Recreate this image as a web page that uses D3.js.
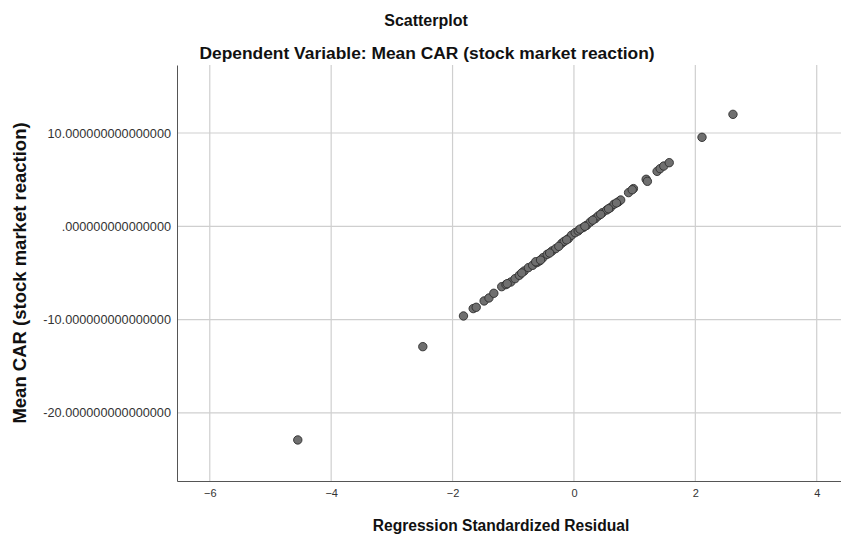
<!DOCTYPE html>
<html>
<head>
<meta charset="utf-8">
<script src="https://cdn.jsdelivr.net/npm/d3@7"></script>
<style>
  body { margin: 0; background: #fff; }
  svg text { font-family: "Liberation Sans", Arial, sans-serif; }
</style>
</head>
<body>
<div id="chart"></div>
<script>
// residuals (x) and mean CAR (y)
let residuals = [-4.55, -2.49, 2.11, 2.62,
  -1.82, -1.66, -1.61, -1.48, -1.40, -1.32, -1.19, -1.12, -1.04, -0.97, -0.90,
  -0.82, -0.75, -0.68, -0.61, -0.57, -0.51, -0.44, -0.36, -0.30, -0.20, -0.16,
  -0.09, -0.04, 0.02, 0.07, 0.15, 0.21, 0.27, 0.35, 0.40, 0.47, 0.54, 0.60,
  0.66, 0.73, 0.77, 0.90, 0.98, 1.19, 1.21, 1.37, 1.42, 1.48, 1.57,
  -1.10, -0.86, -0.63, -0.55, -0.40, -0.25, -0.12, 0.10, 0.18, 0.31, 0.44, 0.57, 0.70, 0.96]
let meanCar = [-22.9, -12.9, 9.54, 12.0,
  -9.61, -8.82, -8.68, -8.0, -7.68, -7.18, -6.47, -6.25, -5.97, -5.61, -5.25,
  -4.79, -4.43, -4.18, -3.89, -3.72, -3.36, -3.0, -2.64, -2.39, -1.82, -1.61,
  -1.32, -0.96, -0.68, -0.50, -0.14, 0.11, 0.46, 0.82, 1.11, 1.46, 1.75, 2.0,
  2.36, 2.61, 2.82, 3.61, 4.04, 5.04, 4.82, 5.89, 6.18, 6.46, 6.82,
  -6.15, -5.0, -3.80, -3.62, -2.86, -2.15, -1.45, -0.30, 0.0, 0.66, 1.28, 1.88, 2.5, 3.92]
let xTicks = [-6, -4, -2, 0, 2, 4]
let yTicks = [10, 0, -10, -20]
let yTickLabels = ["10.000000000000000", ".000000000000000", "-10.000000000000000", "-20.000000000000000"]

let w = 841, h = 540
let mLeft = 177, mRight = 841, mTop = 65, mBottom = 481

let svg = d3.select('#chart').append('svg')
  .attr('width', w)
  .attr('height', h)

let x = d3.scaleLinear().domain([-6.54, 4.40]).range([mLeft, mRight])
let y = d3.scaleLinear().domain([-27.3, 17.29]).range([mBottom, mTop])

// grid
svg.selectAll('.vgrid').data(xTicks).enter().append('line')
  .attr('x1', d => x(d)).attr('x2', d => x(d))
  .attr('y1', mTop).attr('y2', mBottom)
  .attr('stroke', '#cfcfcf').attr('stroke-width', 1.2)
svg.selectAll('.hgrid').data(yTicks).enter().append('line')
  .attr('x1', mLeft).attr('x2', mRight)
  .attr('y1', d => y(d)).attr('y2', d => y(d))
  .attr('stroke', '#cfcfcf').attr('stroke-width', 1.2)

// axes
let xAxis = svg.append('g')
  .attr('transform', 'translate(0,' + mBottom + ')')
  .call(d3.axisBottom(x).tickValues(xTicks).tickSize(0).tickPadding(8).tickFormat(d => d < 0 ? '\u2212' + Math.abs(d) : d))
xAxis.select('.domain').attr('stroke', '#555')
xAxis.selectAll('text').attr('font-size', 11).attr('fill', '#333')

let yAxis = svg.append('g')
  .attr('transform', 'translate(' + mLeft + ',0)')
  .call(d3.axisLeft(y).tickValues(yTicks).tickSize(0).tickPadding(6).tickFormat((d, i) => yTickLabels[i]))
yAxis.select('.domain').attr('stroke', '#555')
yAxis.selectAll('text').attr('font-size', 12.7).attr('fill', '#333')

// points
svg.append('g').selectAll('circle')
  .data(residuals.map((r, i) => [r, meanCar[i]]))
  .enter().append('circle')
  .attr('cx', d => x(d[0]))
  .attr('cy', d => y(d[1]))
  .attr('r', 4.2)
  .attr('fill', '#6f6f6f')
  .attr('stroke', '#2e2e2e')
  .attr('stroke-width', 0.9)

// titles
svg.append('text').text('Scatterplot')
  .attr('x', 426).attr('y', 26)
  .attr('text-anchor', 'middle').attr('font-size', 16).attr('font-weight', 'bold').attr('fill', '#111')
svg.append('text').text('Dependent Variable: Mean CAR (stock market reaction)')
  .attr('x', 427).attr('y', 59)
  .attr('text-anchor', 'middle').attr('font-size', 17.4).attr('font-weight', 'bold').attr('fill', '#111')
svg.append('text').text('Regression Standardized Residual')
  .attr('x', 501).attr('y', 531)
  .attr('text-anchor', 'middle').attr('font-size', 15.6).attr('font-weight', 'bold').attr('fill', '#111')
svg.append('text').text('Mean CAR (stock market reaction)')
  .attr('transform', 'translate(26,' + 273 + ') rotate(-90)')
  .attr('text-anchor', 'middle').attr('font-size', 18.5).attr('font-weight', 'bold').attr('fill', '#111')
</script>
</body>
</html>
